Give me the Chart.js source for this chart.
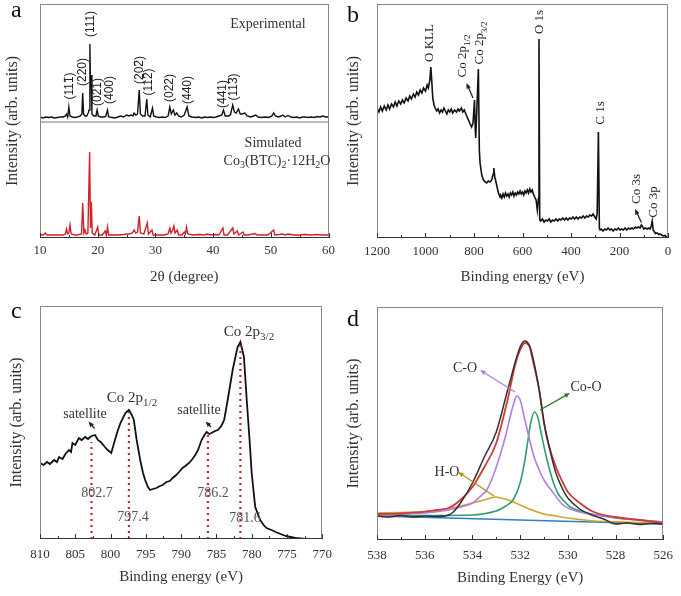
<!DOCTYPE html>
<html>
<head>
<meta charset="utf-8">
<script src="https://cdn.jsdelivr.net/npm/chart.js@4.4.0/dist/chart.umd.min.js"></script>
<style>
body { margin: 0; background: #fff; }
#wrap { position: relative; width: 681px; height: 596px; }
canvas { position: absolute; }
</style>
</head>
<body>
<div id="wrap">
	<canvas id="chart-a" width="340" height="298" style="left:0;top:0"></canvas>
	<canvas id="chart-b" width="341" height="298" style="left:340px;top:0"></canvas>
	<canvas id="chart-c" width="340" height="298" style="left:0;top:298px"></canvas>
	<canvas id="chart-d" width="341" height="298" style="left:340px;top:298px"></canvas>
</div>
<script>
/* ----- Data ----- */

// (a) XRD, 2theta vs intensity (arb.)
const xrdExperimental = [[10,121],[10.5,120],[11,121],[11.5,120.5],[12,121],[12.5,120],[13,120.5],[13.5,121],[14,121],[14.4,122],[14.6,124],[14.8,121],[15.0,131],[15.2,122],[15.6,121],[16,120.5],[16.5,121],[17.0,122],[17.25,124],[17.4,145],[17.55,124],[17.8,122],[18.1,122],[18.35,125],[18.5,128],[18.65,194],[18.75,150],[18.85,163],[19.0,124],[19.3,122],[19.7,122],[19.9,128],[20.1,122],[20.5,121],[21.0,121],[21.4,121.5],[21.7,128],[21.9,121],[22.5,120.5],[23,120],[23.5,121],[24,122],[24.5,121],[25,123],[25.4,122],[25.8,123],[26.1,122],[26.3,125],[26.6,123],[26.9,124],[27.2,148],[27.4,124],[27.8,122],[28.2,122],[28.5,139],[28.7,123],[29.1,121],[29.5,130],[29.7,122],[30.2,121],[30.7,120.5],[31.2,121],[31.7,120.5],[32.2,122],[32.5,131],[32.75,124],[33.1,128],[33.4,123],[33.7,125],[34,122],[34.5,121],[35.0,123],[35.5,131],[35.8,122],[36.3,121],[37,120.5],[37.5,121],[38,120],[38.5,121],[39,120.5],[39.5,121],[40,120.5],[40.5,121],[41,122],[41.5,123],[41.8,128],[42.1,122],[42.6,122],[43,123],[43.4,133],[43.7,126],[44.0,125],[44.4,129],[44.7,124],[45.0,124],[45.5,125],[45.9,122],[46.5,121],[47,122],[47.4,123],[47.8,121],[48.3,120.5],[49,121],[49.6,120.5],[50.2,122],[50.5,125],[50.8,122],[51.3,121],[51.8,122],[52.1,123],[52.5,121],[53,122.5],[53.5,121],[54,120.5],[54.5,121],[55,120],[55.5,121],[56,121],[56.5,120.5],[57,121],[57.5,120.5],[58,121.5],[58.5,121],[59,122],[59.5,121],[60,121]];
const xrdSimulated = [[10,3],[10.6,3],[10.9,5],[11.2,3],[12,3],[13,3],[14,3],[14.4,4],[14.6,9],[14.8,4],[15.0,5],[15.2,13],[15.4,4],[16,3],[16.5,3],[17.2,4],[17.4,35],[17.6,5],[17.8,8],[18.0,4],[18.3,5],[18.6,86],[18.75,10],[18.9,36],[19.05,5],[19.5,3],[20.0,11],[20.2,3],[20.8,3],[21.3,7],[21.5,3],[21.7,11],[21.9,3],[22.5,3],[23.5,3],[24.5,3.5],[25,4],[25.5,4],[26,5],[26.3,8],[26.6,5],[26.9,6],[27.2,22],[27.4,5],[28,4],[28.6,15],[28.8,4],[29.4,8],[29.6,3],[30.5,3],[31.5,3],[32.2,4],[32.5,10],[32.7,5],[33.0,8],[33.2,12],[33.4,5],[33.8,8],[34.0,3],[34.6,3],[35.0,6],[35.2,4],[35.4,11],[35.6,4],[36.5,3],[37.5,3.5],[38.5,3],[39,4],[39.5,3],[40.5,3.5],[41,3],[41.7,10],[41.9,3],[42.5,3],[43.4,10],[43.6,4],[44.2,7],[44.4,3],[45.2,6],[45.4,3],[46,3],[47.3,4.5],[47.6,3],[48.5,3],[49.5,3],[50.5,8],[50.7,3],[51.5,3.5],[52,4],[52.5,3],[53,4],[54,3],[55,3],[56,3.5],[57,3],[58,3.5],[59,3],[60,3]];
const xrdDivider = [[10,116],[60,116]];

// (b) XPS survey, binding energy (eV) vs intensity
const surveySpectrum = [[1200,130],[1192,126],[1185,131],[1178,127],[1170,132],[1162,128],[1155,133],[1148,129],[1140,134],[1132,131],[1125,136],[1118,132],[1110,137],[1102,134],[1095,138],[1088,135],[1080,140],[1072,137],[1065,142],[1058,139],[1050,144],[1043,141],[1036,146],[1029,143],[1022,148],[1015,145],[1008,150],[1000,147],[993,153],[988,150],[982,158],[978,171],[975,160],[970,140],[965,133],[960,130],[954,127],[948,129],[942,125],[936,128],[930,126],[924,130],[918,127],[912,124],[906,128],[900,126],[894,129],[888,125],[880,128],[872,126],[866,129],[860,127],[852,130],[846,126],[840,128],[837,126],[830,122],[823,118],[816,114],[810,111],[804,115],[798,138],[795,110],[793,100],[788,130],[782,169],[778,88],[775,75],[768,63],[761,58],[754,56],[748,55],[741,57],[734,56],[727,58],[721,64],[718,70],[714,60],[711,58],[704,50],[699,45],[693,41],[690,43],[685,40],[680,44],[675,41],[670,45],[665,42],[660,44],[655,41],[650,45],[645,43],[640,46],[635,42],[630,45],[625,43],[620,46],[615,44],[610,47],[605,44],[600,46],[595,43],[590,47],[585,45],[580,48],[575,45],[570,49],[565,46],[560,48],[555,44],[548,40],[544,38],[539,28],[534,40],[532,199],[529,18],[525,17],[518,19],[511,16],[504,18],[497,17],[490,19],[483,16],[476,18],[469,17],[462,19],[455,17],[448,19],[441,18],[434,20],[427,18],[420,20],[413,18],[406,20],[399,19],[392,21],[385,19],[378,21],[371,19],[364,21],[357,20],[350,22],[343,20],[336,22],[329,21],[322,23],[315,22],[309,24],[302,21],[296,19],[292,25],[287,106],[283,10],[280,8],[275,9],[268,7],[261,9],[254,8],[247,10],[240,8],[233,9],[226,7],[219,9],[212,8],[205,10],[198,8],[191,9],[184,8],[177,10],[170,8],[163,10],[156,9],[149,10],[142,9],[135,11],[129,10],[122,11],[115,10],[110,13],[106,12],[100,9],[93,10],[86,9],[80,10],[74,9],[69,12],[65,17],[61,8],[56,6],[52,4.5],[45,5],[38,3.5],[33,4],[26,3],[19,2],[12,2.5],[6,1],[0,1]];

// (c) Co 2p high resolution
const co2pSpectrum = [[810,76],[809.5,74],[809,77],[808.6,75],[808,79],[807.6,77],[807.3,82],[806.8,80],[806.4,85],[805.9,89],[805.6,87],[805.4,96],[805,94],[804.5,101],[804.1,99],[803.6,102],[803.2,100],[802.7,103],[802.2,104],[801.8,99],[801.4,97],[800.8,92],[800.4,89],[799.9,86],[799.5,96],[799,108],[798.6,116],[797.9,126],[797.4,129],[797,124],[796.7,119],[796.3,99],[795.8,79],[795.4,66],[795.1,59],[794.7,52],[794.4,49],[794,50],[793.5,51],[793,53],[792.6,54],[792.1,57],[791.6,58],[791.2,61],[790.7,64],[790.3,67],[789.8,71],[789.4,73],[788.9,76],[788.5,79],[788,84],[787.6,89],[787.1,99],[786.7,104],[786.4,107],[786,105],[785.7,106],[785.2,108],[784.8,109],[784.3,113],[783.9,119],[783.4,139],[782.7,169],[782,192],[781.6,197],[781.1,182],[780.7,139],[780.3,99],[780,66],[779.5,32],[778.8,19],[778.3,14],[777.9,11],[777.2,9],[776.6,7],[775.9,5],[775.2,3],[774.5,2],[773.8,1],[773.1,0.5],[772.4,0]];
const co2pPeakEnergies = [802.7, 797.4, 786.2, 781.6];
const co2pPeakHeights = [97, 127, 107, 196];

// (d) O 1s high resolution and fitted components
const o1sRaw = [[538,24],[537.5,23],[537,24.5],[536.5,23],[536,24],[535.5,23.5],[535,25],[534.8,28],[534.5,37],[534,57],[533.5,83],[533,108],[532.5,152],[532,193],[531.8,199],[531.6,194],[531.5,186],[531.2,150],[531,118],[530.8,95],[530.5,67],[530.2,50],[530,42],[529.5,31],[529,25],[528.5,21],[528,16],[527.5,17],[527,15.5],[526.5,16.5],[526,16]];
const o1sEnvelope = [[538,26],[537,26.7],[536,28.3],[535.5,30],[535,32],[534.5,40],[534,53],[533.5,73],[533,97],[532.5,143],[532.2,176],[532,190],[531.8,197],[531.6,193],[531.5,183],[531.2,150],[531,117],[530.8,95],[530.5,73],[530.2,57],[530,48],[529.5,37],[529,29],[528.5,25],[528,23],[527,20],[526,17]];
const o1sCO = [[538,25],[537,25.5],[536,27],[535,30],[534.5,33],[534,37],[533.7,43],[533.4,50],[533.2,60],[533,73],[532.8,88],[532.6,105],[532.4,125],[532.25,138],[532.13,144],[532,140],[531.8,120],[531.6,100],[531.4,82],[531.2,70],[531,60],[530.7,50],[530.2,35],[529.5,28],[528.5,24],[528,22],[527,20],[526,18]];
const o1sCoO = [[538,24],[536,24.5],[534,25],[533,29],[532.9,30],[532.6,34],[532.3,40],[532,57],[531.8,80],[531.67,100],[531.55,118],[531.4,128],[531.25,122],[531.12,107],[530.9,83],[530.6,57],[530.4,46],[530.2,40],[529.9,33],[529.6,30],[529,26],[528.5,24],[528,22],[527,20],[526,18]];
const o1sHO = [[538,27],[537,27.5],[536,28.3],[535,31.7],[534.5,34],[534,37],[533.5,40],[533.05,43],[532.5,40],[532,35],[531.5,30],[531,26],[530.5,24],[530,22],[529,19.3],[528,18.3],[527,17.5],[526,16.7]];
const o1sBackground = [[538,24],[526,16]];

/* ----- Helpers ----- */

const serif = '"Liberation Serif", "Times New Roman", serif';
const sans = '"Liberation Sans", Arial, sans-serif';
const pts = arr => arr.map(([x, y]) => ({x, y}));

const line = (data, color, width, extra) => Object.assign({
	data: pts(data),
	borderColor: color,
	borderWidth: width,
	pointRadius: 0,
	fill: false,
	tension: 0
}, extra || {});

// rich text: parts are strings or {t, sub, bar}
const drawRich = (ctx, item) => {
	const size = item.size || 14;
	const fam = item.family || serif;
	const parts = item.parts.map(p => typeof p === 'string' ? {t: p} : Object.assign({}, p));
	const fontFor = p => (p.sub ? Math.round(size * 0.72) : size) + 'px ' + fam;
	let w = 0;
	parts.forEach(p => { ctx.font = fontFor(p); p.w = ctx.measureText(p.t).width; w += p.w; });
	ctx.save();
	ctx.translate(item.x, item.y);
	if (item.rot) ctx.rotate(item.rot * Math.PI / 180);
	ctx.fillStyle = item.color || '#222';
	ctx.strokeStyle = item.color || '#222';
	ctx.textBaseline = 'middle';
	ctx.textAlign = 'left';
	let cx = item.align === 'left' ? 0 : -w / 2;
	parts.forEach(p => {
		ctx.font = fontFor(p);
		ctx.fillText(p.t, cx, p.sub ? size * 0.32 : 0);
		if (p.bar) {
			ctx.lineWidth = 1;
			ctx.beginPath();
			ctx.moveTo(cx + 1, -size * 0.47);
			ctx.lineTo(cx + p.w - 1, -size * 0.47);
			ctx.stroke();
		}
		cx += p.w;
	});
	ctx.restore();
};

const drawArrow = (ctx, a) => {
	const [x1, y1, x2, y2] = a.arrow;
	const ang = Math.atan2(y2 - y1, x2 - x1);
	const hl = a.head || 6;
	ctx.save();
	ctx.strokeStyle = a.color || '#222';
	ctx.fillStyle = a.color || '#222';
	ctx.lineWidth = a.width || 1.3;
	ctx.beginPath();
	ctx.moveTo(x1, y1);
	ctx.lineTo(x2 - Math.cos(ang) * hl * 0.7, y2 - Math.sin(ang) * hl * 0.7);
	ctx.stroke();
	ctx.beginPath();
	ctx.moveTo(x2, y2);
	ctx.lineTo(x2 - hl * Math.cos(ang - 0.4), y2 - hl * Math.sin(ang - 0.4));
	ctx.lineTo(x2 - hl * Math.cos(ang + 0.4), y2 - hl * Math.sin(ang + 0.4));
	ctx.closePath();
	ctx.fill();
	ctx.restore();
};

// frame, inward ticks and annotations
const panelPlugin = {
	id: 'panel',
	afterDraw(chart, args, opts) {
		const {ctx, chartArea: a, scales: {x}} = chart;
		ctx.save();
		ctx.strokeStyle = '#888';
		ctx.lineWidth = 1;
		ctx.strokeRect(Math.round(a.left) + 0.5, Math.round(a.top) + 0.5, Math.round(a.width) - 1, Math.round(a.height) - 1);
		ctx.strokeStyle = '#333';
		ctx.beginPath();
		ctx.moveTo(a.left, Math.round(a.bottom) - 0.5);
		ctx.lineTo(a.right, Math.round(a.bottom) - 0.5);
		ctx.stroke();
		x.ticks.forEach(t => {
			const px = Math.round(x.getPixelForValue(t.value)) + 0.5;
			const len = t.label !== '' ? 5 : 3;
			ctx.beginPath();
			ctx.moveTo(px, a.bottom);
			ctx.lineTo(px, a.bottom - len);
			ctx.stroke();
		});
		ctx.restore();
		(opts.items || []).forEach(item => {
			if (item.arrow) drawArrow(ctx, item);
			else if (item.letter) {
				ctx.save();
				ctx.font = '24px ' + serif;
				ctx.fillStyle = '#111';
				ctx.textBaseline = 'alphabetic';
				ctx.fillText(item.letter, item.x, item.y);
				ctx.restore();
			} else drawRich(ctx, item);
		});
	}
};

const makeOptions = cfg => ({
	responsive: false,
	animation: false,
	events: [],
	layout: {padding: cfg.padding},
	plugins: {
		legend: {display: false},
		tooltip: {enabled: false},
		panel: {items: cfg.notes}
	},
	scales: {
		x: {
			type: 'linear',
			min: cfg.xMin,
			max: cfg.xMax,
			reverse: !!cfg.reverse,
			afterFit: s => { s.height = cfg.xHeight; },
			grid: {display: false, drawTicks: false},
			border: {display: false},
			ticks: {
				stepSize: cfg.step,
				padding: cfg.tickPad,
				color: '#333',
				autoSkip: false,
				maxRotation: 0,
				font: {family: serif, size: 13},
				callback: v => {
					const r = Math.abs(v % cfg.major);
					return (r < 1e-6 || Math.abs(r - cfg.major) < 1e-6) ? String(v) : '';
				}
			},
			title: {display: true, text: cfg.xTitle, color: '#333', font: {family: serif, size: 15}, padding: {top: 0, bottom: cfg.xTitlePad}}
		},
		y: {
			min: cfg.yMin,
			max: cfg.yMax,
			afterFit: s => { s.width = cfg.yWidth; },
			grid: {display: false, drawTicks: false},
			border: {display: false},
			ticks: {display: false},
			title: {display: true, text: 'Intensity (arb. units)', color: '#333', font: {family: serif, size: 16}, padding: {top: cfg.yTitlePad, bottom: 0}}
		}
	}
});

/* ----- Charts ----- */

const charts = [];

// Chart a
const miller = (parts, x, y) => ({parts, x, y, rot: -90, size: 12, family: sans, color: '#222'});
charts[0] = new Chart(document.getElementById('chart-a'), {
	type: 'line',
	data: {
		datasets: [
			line(xrdDivider, '#777', 1),
			line(xrdSimulated, '#d0202a', 1.4),
			line(xrdExperimental, '#111', 1.4)
		]
	},
	options: makeOptions({
		padding: {top: 4, right: 9, left: 0, bottom: 0},
		xMin: 10, xMax: 60, step: 5, major: 10, tickPad: 5,
		xHeight: 60, xTitle: '2θ (degree)', xTitlePad: 12,
		yMin: 0, yMax: 234, yWidth: 40, yTitlePad: 3,
		notes: [
			{letter: 'a', x: 11, y: 17},
			{parts: ['Experimental'], x: 268, y: 24, size: 14, color: '#333'},
			{parts: ['Simulated'], x: 273, y: 143, size: 14, color: '#333'},
			{parts: ['Co', {t: '3', sub: true}, '(BTC)', {t: '2', sub: true}, '·12H', {t: '2', sub: true}, 'O'], x: 277, y: 161, size: 14, color: '#333'},
			miller(['(11', {t: '1', bar: true}, ')'], 70, 86),
			miller(['(220)'], 83, 72),
			miller(['(111)'], 91, 24),
			miller(['(021)'], 98, 92),
			miller(['(400)'], 110, 90),
			miller(['(20', {t: '2', bar: true}, ')'], 140, 70),
			miller(['(11', {t: '2', bar: true}, ')'], 149, 82),
			miller(['(022)'], 170, 88),
			miller(['(440)'], 188, 90),
			miller(['(441)'], 223, 94),
			miller(['(11', {t: '3', bar: true}, ')'], 234, 87)
		]
	}),
	plugins: [panelPlugin]
});

// Chart b
const peakLabel = (parts, x, y) => ({parts, x, y, rot: -90, size: 13, color: '#222'});
charts[1] = new Chart(document.getElementById('chart-b'), {
	type: 'line',
	data: {
		datasets: [line(surveySpectrum, '#111', 1.6)]
	},
	options: makeOptions({
		padding: {top: 4, right: 13, left: 0, bottom: 0},
		xMin: 0, xMax: 1200, step: 100, major: 200, reverse: true, tickPad: 6,
		xHeight: 60, xTitle: 'Binding energy (eV)', xTitlePad: 12,
		yMin: 0, yMax: 234, yWidth: 37, yTitlePad: 4,
		notes: [
			{letter: 'b', x: 7, y: 22},
			peakLabel(['O KLL'], 90, 43),
			peakLabel(['Co 2p', {t: '1/2', sub: true}], 123, 56),
			peakLabel(['Co 2p', {t: '3/2', sub: true}], 140, 43),
			peakLabel(['O 1s'], 200, 22),
			peakLabel(['C 1s'], 261, 113),
			peakLabel(['Co 3s'], 297, 189),
			peakLabel(['Co 3p'], 314, 202),
			{arrow: [133, 98, 126.5, 83]},
			{arrow: [301.5, 222.5, 295, 209]}
		]
	}),
	plugins: [panelPlugin]
});

// Chart c
const markerSets = co2pPeakEnergies.map((e, i) =>
	line([[e, 0], [e, co2pPeakHeights[i]]], '#c0282a', 2.2, {borderDash: [2, 4]}));
charts[2] = new Chart(document.getElementById('chart-c'), {
	type: 'line',
	data: {
		datasets: [...markerSets, line(co2pSpectrum, '#111', 1.8)]
	},
	options: makeOptions({
		padding: {top: 8, right: 9, left: 0, bottom: 0},
		xMin: 770, xMax: 810, step: 2.5, major: 5, reverse: true, tickPad: 8,
		xHeight: 57, xTitle: 'Binding energy (eV)', xTitlePad: 10,
		yMin: 0, yMax: 233, yWidth: 40, yTitlePad: 7,
		notes: [
			{letter: 'c', x: 11, y: 20},
			{parts: ['satellite'], x: 85, y: 116, size: 14, color: '#333'},
			{arrow: [94.5, 130.5, 88.5, 123.5]},
			{parts: ['Co 2p', {t: '1/2', sub: true}], x: 132, y: 100, size: 15, color: '#333'},
			{parts: ['satellite'], x: 199, y: 112, size: 14, color: '#333'},
			{arrow: [211, 129, 205.5, 123.5]},
			{parts: ['Co 2p', {t: '3/2', sub: true}], x: 249, y: 34, size: 15, color: '#333'},
			{parts: ['802.7'], x: 97, y: 195, size: 14, color: '#555'},
			{parts: ['797.4'], x: 133, y: 219, size: 14, color: '#555'},
			{parts: ['786.2'], x: 213, y: 195, size: 14, color: '#555'},
			{parts: ['781.6'], x: 245, y: 220, size: 14, color: '#555'}
		]
	}),
	plugins: [panelPlugin]
});

// Chart d
const smooth = {cubicInterpolationMode: 'monotone'};
charts[3] = new Chart(document.getElementById('chart-d'), {
	type: 'line',
	data: {
		datasets: [
			line(o1sRaw, '#333', 1.5, smooth),
			line(o1sEnvelope, '#d23a3a', 1.8, smooth),
			line(o1sCO, '#b07ee0', 1.6, smooth),
			line(o1sCoO, '#2f9e6e', 1.6, smooth),
			line(o1sHO, '#d2a52c', 1.6, smooth),
			line(o1sBackground, '#2f7fc1', 1.6)
		]
	},
	options: makeOptions({
		padding: {top: 9, right: 14, left: 0, bottom: 0},
		xMin: 526, xMax: 538, step: 1, major: 2, reverse: true, tickPad: 8,
		xHeight: 56, xTitle: 'Binding Energy (eV)', xTitlePad: 9,
		yMin: 0, yMax: 233, yWidth: 37, yTitlePad: 4,
		notes: [
			{letter: 'd', x: 7, y: 28},
			{parts: ['C-O'], x: 125, y: 70, size: 14, color: '#333'},
			{arrow: [175, 94, 140, 72], color: '#b07ee0'},
			{parts: ['Co-O'], x: 246, y: 89, size: 14, color: '#333'},
			{arrow: [200, 112, 230, 95], color: '#1f7a2a'},
			{parts: ['H-O'], x: 107, y: 174, size: 14, color: '#333'},
			{arrow: [154, 198, 118, 174], color: '#b08d1a'}
		]
	}),
	plugins: [panelPlugin]
});
</script>
</body>
</html>
